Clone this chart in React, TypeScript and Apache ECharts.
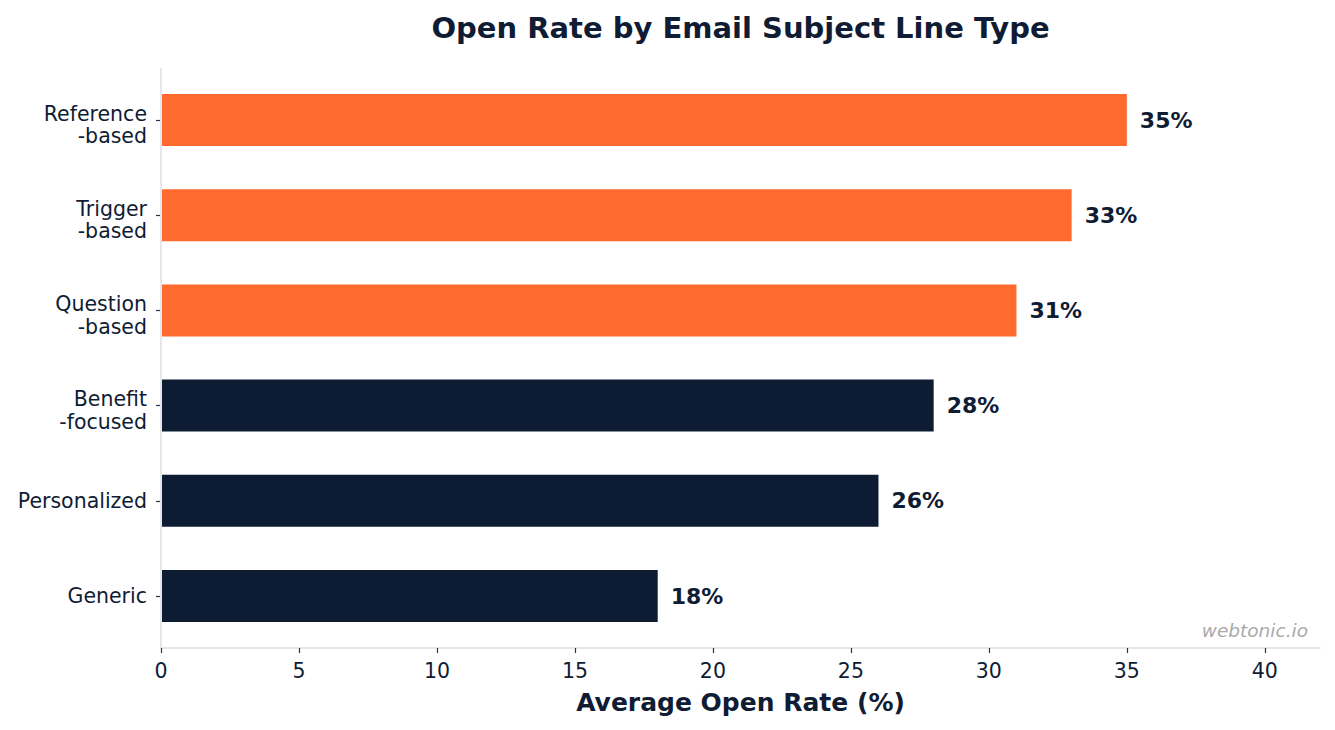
import React, { useEffect, useRef } from "react";
import * as echarts from "echarts";

// Subject line types, bottom to top as listed (axis is inverted so the first sits on top)
const categories = [
  "Reference\n-based",
  "Trigger\n-based",
  "Question\n-based",
  "Benefit\n-focused",
  "Personalized",
  "Generic",
];
const openRates = [35, 33, 31, 28, 26, 18];
const highlighted = [true, true, true, false, false, false];
const xTicks = [0, 5, 10, 15, 20, 25, 30, 35, 40];

const ORANGE = "#FF6B2F";
const NAVY = "#0D1C33";
const TEXT = "#0F1C33";
const SPINE = "#E5E7EB";
const FONT = "DejaVu Sans";

export default function App() {
  const ref = useRef<HTMLDivElement>(null);

  useEffect(() => {
    if (!ref.current) return;
    const chart = echarts.init(ref.current, undefined, { renderer: "svg" });

    const gridLeft = 161;
    const gridRight = 1320;
    const gridTop = 72.4;
    const gridBottom = 643.6;
    const spineTop = 68;
    const spineBottom = 648;

    // two-line labels sit slightly below their tick: a thin spacer line on top
    const formatCategory = (v: string) =>
      v.includes("\n")
        ? "{s| }\n" + v.split("\n").map((l) => `{t|${l}}`).join("\n")
        : `{t|${v}}`;

    chart.setOption({
      animation: false,
      backgroundColor: "#ffffff",
      textStyle: { fontFamily: FONT },
      title: {
        text: "Open Rate by Email Subject Line Type",
        left: (gridLeft + gridRight) / 2 - 5,
        top: 8,
        textAlign: "center",
        textStyle: { fontFamily: FONT, fontSize: 29, fontWeight: "bold", color: TEXT },
      },
      grid: {
        left: gridLeft,
        right: 1335 - gridRight,
        top: gridTop,
        bottom: 730 - gridBottom,
        containLabel: false,
      },
      xAxis: {
        type: "value",
        min: 0,
        max: 42,
        interval: 5,
        offset: spineBottom - gridBottom,
        name: "Average Open Rate (%)",
        nameLocation: "middle",
        nameGap: 42,
        nameTextStyle: { fontFamily: FONT, fontSize: 25, fontWeight: "bold", color: TEXT },
        axisLine: { show: true, lineStyle: { color: SPINE, width: 2 } },
        axisTick: {
          show: true,
          length: 5,
          customValues: xTicks,
          lineStyle: { color: "#2A3547", width: 1.2 },
        },
        axisLabel: {
          customValues: xTicks,
          fontFamily: FONT,
          fontSize: 20.5,
          color: TEXT,
          margin: 12.5,
        },
        splitLine: { show: false },
      },
      yAxis: {
        type: "category",
        data: categories,
        inverse: true,
        axisLine: { show: false },
        axisTick: {
          show: true,
          alignWithLabel: true,
          length: 5,
          lineStyle: { color: "#2A3547", width: 1.2 },
        },
        axisLabel: {
          margin: 14,
          align: "right",
          formatter: formatCategory,
          rich: {
            s: { fontSize: 2, lineHeight: 10, align: "right" },
            t: {
              fontFamily: FONT,
              fontSize: 20.5,
              lineHeight: 22.5,
              color: TEXT,
              align: "right",
            },
          },
        },
      },
      series: [
        {
          type: "bar",
          data: openRates.map((v, i) => ({
            value: v,
            itemStyle: { color: highlighted[i] ? ORANGE : NAVY },
          })),
          barWidth: 52,
          label: {
            show: true,
            position: "right",
            distance: 13,
            formatter: "{c}%",
            fontFamily: FONT,
            fontSize: 22,
            fontWeight: "bold",
            color: TEXT,
          },
        },
      ],
      graphic: [
        {
          type: "line",
          shape: { x1: gridLeft, y1: spineTop, x2: gridLeft, y2: spineBottom },
          style: { stroke: SPINE, lineWidth: 2 },
          z: 10,
        },
        {
          type: "text",
          right: 1335 - 1308,
          top: 621,
          style: {
            text: "webtonic.io",
            fontFamily: FONT,
            fontSize: 18.5,
            fontStyle: "italic",
            fill: "#AAAAAA",
          },
        },
      ],
    });

    return () => chart.dispose();
  }, []);

  return (
    <div
      ref={ref}
      style={{ position: "fixed", left: 0, top: 0, width: 1335, height: 730 }}
    />
  );
}
